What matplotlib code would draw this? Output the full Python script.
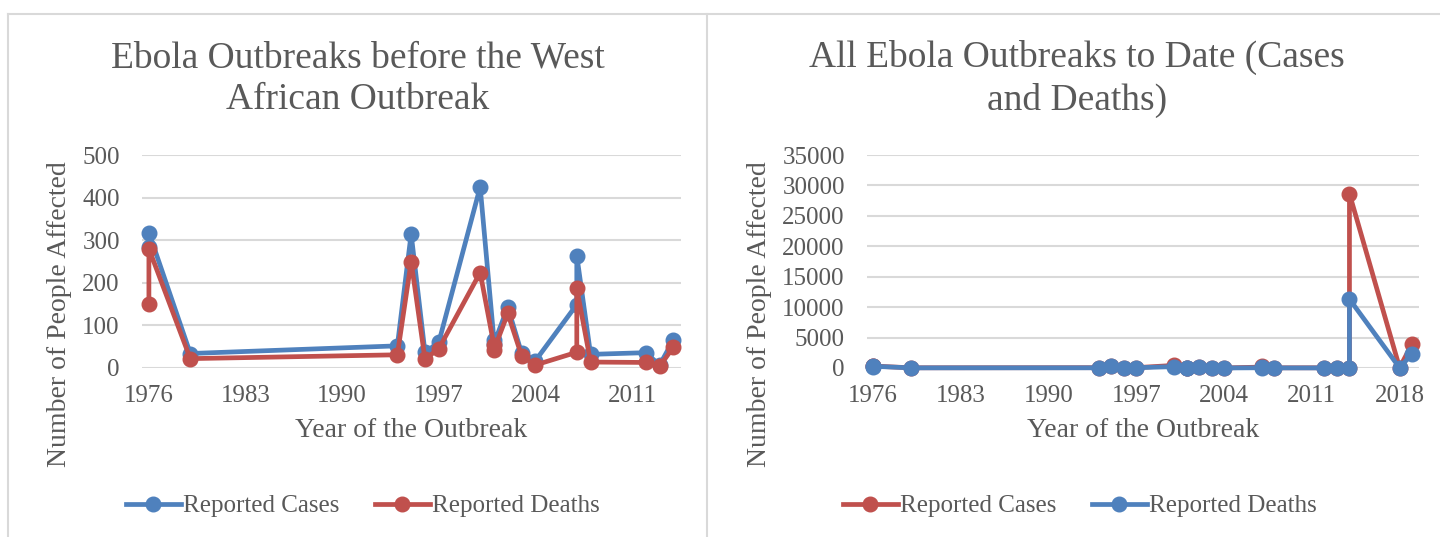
import matplotlib
matplotlib.use('Agg')
import matplotlib.pyplot as plt
from matplotlib.lines import Line2D

# Data
years_before = [1976, 1976, 1979, 1994, 1995, 1996, 1997, 2000, 2001, 2001,
                2002, 2003, 2004, 2007, 2007, 2008, 2012, 2013, 2014]
cases_before = [284, 318, 34, 52, 315, 37, 60, 425, 65, 57,
                143, 35, 17, 149, 264, 32, 36, 7, 66]
deaths_before = [151, 280, 22, 31, 250, 21, 45, 224, 53, 43,
                 128, 29, 7, 37, 187, 14, 13, 4, 49]

years_all = years_before + [2014, 2018, 2019]
cases_all = cases_before + [28646, 54, 3980]
deaths_all = deaths_before + [11323, 33, 2340]

left_xticks = [1976, 1983, 1990, 1997, 2004, 2011]
right_xticks = [1976, 1983, 1990, 1997, 2004, 2011, 2018]

blue = '#4F81BD'
red = '#C0504D'
grey = '#595959'
grid = '#D9D9D9'

plt.rcParams['font.family'] = ['Liberation Serif', 'DejaVu Serif']

W, H = 1440, 537
fig = plt.figure(figsize=(W / 100, H / 100), dpi=100)


def rect(x0, x1, y_top, y_bot):
    return [x0 / W, 1 - y_bot / H, (x1 - x0) / W, (y_bot - y_top) / H]


def style(ax, ymax, ystep, xticks, xlim):
    ax.set_ylim(0, ymax)
    ax.set_xlim(*xlim)
    ax.set_yticks(range(0, ymax + 1, ystep))
    ax.set_xticks(xticks)
    for s in ax.spines.values():
        s.set_visible(False)
    ax.yaxis.grid(True, color=grid, linewidth=1.5)
    ax.set_axisbelow(True)
    ax.tick_params(axis='both', length=0, labelsize=18, colors=grey)
    ax.tick_params(axis='y', pad=16)
    ax.tick_params(axis='x', pad=12)
    ax.set_xlabel('Year of the Outbreak', fontsize=20, color=grey, labelpad=8)


line_kw = dict(linewidth=3.4, marker='o', markersize=10.5, clip_on=False)

####### Left chart ######
ax1 = fig.add_axes(rect(142, 681, 155, 368))
ax1.plot(years_before, cases_before, color=blue, label='Reported Cases', **line_kw)
ax1.plot(years_before, deaths_before, color=red, label='Reported Deaths', **line_kw)
style(ax1, 500, 100, left_xticks, (1975.5, 2014.55))

####### Right chart ######
ax2 = fig.add_axes(rect(867, 1419, 155, 368))
ax2.plot(years_all, cases_all, color=red, label='Reported Cases', **line_kw)
ax2.plot(years_all, deaths_all, color=blue, label='Reported Deaths', **line_kw)
style(ax2, 35000, 5000, right_xticks, (1975.5, 2019.55))

# titles
fig.text(358 / W, 1 - 79 / H, 'Ebola Outbreaks before the West\nAfrican Outbreak',
         ha='center', va='center', fontsize=27, color=grey, linespacing=1.3)
fig.text(1077 / W, 1 - 79 / H, 'All Ebola Outbreaks to Date (Cases\nand Deaths)',
         ha='center', va='center', fontsize=27, color=grey, linespacing=1.3)

# y labels
fig.text(60 / W, 1 - 314 / H, 'Number of People Affected', rotation=90,
         ha='center', va='center', fontsize=20, color=grey)
fig.text(760 / W, 1 - 314 / H, 'Number of People Affected', rotation=90,
         ha='center', va='center', fontsize=20, color=grey)

# legends
leg_kw = dict(loc='center', ncol=2, frameon=False, fontsize=18,
              handlelength=2.2, handletextpad=0.1, columnspacing=1.4,
              labelcolor=grey)
h1, l1 = ax1.get_legend_handles_labels()
fig.legend(h1, l1, bbox_to_anchor=(363 / W, 1 - 506 / H), **leg_kw)
h2, l2 = ax2.get_legend_handles_labels()
fig.legend(h2, l2, bbox_to_anchor=(1080 / W, 1 - 506 / H), **leg_kw)

# chart area borders
border = dict(color=grid, linewidth=1.5, transform=fig.transFigure)
fig.add_artist(Line2D([8 / W, 1], [1 - 14 / H, 1 - 14 / H], **border))
fig.add_artist(Line2D([8 / W, 8 / W], [0, 1 - 14 / H], **border))
fig.add_artist(Line2D([707 / W, 707 / W], [0, 1 - 14 / H], **border))

fig.savefig('out.png', dpi=100)
